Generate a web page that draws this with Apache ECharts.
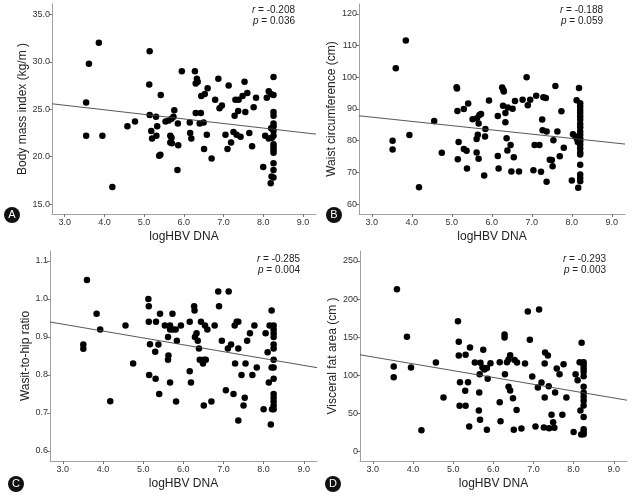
<!DOCTYPE html>
<html><head><meta charset="utf-8">
<script src="https://cdn.jsdelivr.net/npm/echarts@6/dist/echarts.min.js"></script>
<style>html,body{margin:0;padding:0;background:#fff}#c{width:634px;height:500px}</style>
</head><body><div id="c"></div>
<script>
// ---- Data ----
const xTicks = [3, 4, 5, 6, 7, 8, 9];
const bmiTicks = [15, 20, 25, 30, 35];
const waistTicks = [60, 70, 80, 90, 100, 110, 120];
const whrTicks = [0.6, 0.7, 0.8, 0.9, 1.0, 1.1];
const vfaTicks = [0, 50, 100, 150, 200, 250];

const bmiPoints = [
[3.54,25.7],[3.54,22.2],[3.61,29.8],[3.86,32.0],[3.95,22.2],[4.2,16.8],[4.58,23.2],[4.77,23.7],
[5.14,31.1],[5.13,27.6],[5.14,24.4],[5.18,22.7],[5.2,21.9],[5.3,24.2],[5.33,23.2],[5.31,22.2],
[5.42,26.5],[5.38,20.1],[5.41,20.2],[5.54,23.7],[5.62,23.8],[5.69,24.0],[5.76,24.9],[5.74,24.2],
[5.66,22.2],[5.69,22.0],[5.66,21.5],[5.7,21.4],[5.85,23.5],[5.86,21.2],[5.84,18.6],[5.95,29.0],
[6.15,23.6],[6.16,22.5],[6.19,21.9],[6.28,29.0],[6.3,27.7],[6.33,28.2],[6.35,27.9],[6.3,24.6],
[6.4,23.5],[6.43,24.6],[6.44,26.4],[6.5,23.6],[6.53,26.6],[6.58,22.3],[6.6,27.2],[6.51,20.8],
[6.7,19.8],[6.79,26.0],[6.87,28.2],[6.9,25.1],[6.96,25.4],[7.05,22.3],[7.1,20.8],[7.13,27.5],
[7.19,21.5],[7.25,22.6],[7.28,24.3],[7.3,26.0],[7.33,22.3],[7.37,24.8],[7.38,26.0],[7.43,22.1],
[7.48,26.4],[7.53,27.9],[7.55,24.7],[7.6,26.7],[7.65,22.5],[7.72,21.1],[7.76,25.2],[7.82,26.2],
[8.0,18.9],[8.05,22.2],[8.09,26.2],[8.14,21.9],[8.14,26.9],[8.19,17.2],[8.21,17.9],[8.19,26.6],
[8.2,23.0],[8.22,22.0],
[8.26,28.4],[8.26,26.5],[8.26,24.7],[8.26,24.3],[8.26,23.5],[8.26,23.2],[8.26,22.7],[8.26,22.2],
[8.26,21.3],[8.26,21.0],[8.26,20.7],[8.26,20.4],[8.26,19.3],[8.26,18.6],[8.26,17.8]
];
const waistPoints = [
[3.52,80.0],[3.52,77.2],[3.6,102.9],[3.85,111.6],[3.94,81.8],[4.18,65.3],[4.56,86.2],[4.75,76.2],
[5.12,96.9],[5.13,96.5],[5.14,89.4],[5.17,79.6],[5.15,74.1],[5.3,90.0],[5.3,77.4],[5.37,76.8],
[5.41,91.7],[5.38,71.2],[5.52,86.8],[5.63,87.1],[5.69,88.1],[5.73,88.4],[5.65,81.9],[5.62,80.5],
[5.67,85.4],[5.62,76.3],[5.67,74.3],[5.84,83.7],[5.83,81.3],[5.81,69.0],[5.93,92.7],[6.15,87.8],
[6.15,75.2],[6.17,71.2],[6.26,96.8],[6.29,96.0],[6.3,95.5],[6.28,91.0],[6.34,88.7],[6.34,85.8],
[6.37,80.8],[6.4,90.5],[6.39,76.9],[6.47,78.6],[6.49,70.3],[6.52,90.1],[6.55,74.8],[6.58,92.5],
[6.68,70.3],[6.77,92.9],[6.96,92.9],[6.87,100.0],[6.9,91.2],[7.04,70.7],[7.07,78.6],[7.19,78.6],
[7.11,94.2],[7.23,70.2],[7.26,86.7],[7.27,83.3],[7.29,93.7],[7.35,93.5],[7.37,82.9],[7.37,67.0],
[7.45,74.0],[7.5,73.9],[7.52,71.9],[7.54,80.1],[7.59,97.3],[7.64,82.9],[7.7,75.1],[7.74,89.3],
[7.8,77.8],[8.0,67.4],[8.03,82.0],[8.09,81.3],[8.12,92.8],[8.16,65.1],[8.18,96.6],[8.13,80.5],
[8.15,79.6],
[8.21,91.8],[8.21,90.8],[8.21,89.7],[8.21,88.7],[8.21,87.6],[8.21,86.6],[8.21,85.3],[8.21,84.2],
[8.21,82.9],[8.21,81.9],[8.21,80.8],[8.21,79.8],[8.21,78.7],[8.21,77.5],[8.21,76.3],[8.21,75.6],
[8.21,72.4],[8.21,69.3],[8.21,68.2],[8.21,67.2]
];
const whrPoints = [
[3.51,0.880],[3.51,0.869],[3.6,1.05],[3.84,0.961],[3.93,0.92],[4.18,0.731],[4.56,0.93],[4.75,0.83],
[5.13,1.0],[5.14,0.981],[5.14,0.94],[5.17,0.881],[5.15,0.80],[5.3,0.861],[5.32,0.94],[5.31,0.79],
[5.38,0.88],[5.42,0.961],[5.4,0.75],[5.54,0.93],[5.62,0.90],[5.63,0.851],[5.62,0.84],[5.67,0.93],
[5.67,0.92],[5.73,0.961],[5.74,0.92],[5.81,0.92],[5.84,0.89],[5.67,0.78],[5.82,0.73],[5.94,0.93],
[6.16,0.94],[6.16,0.81],[6.19,0.78],[6.27,0.981],[6.28,0.97],[6.29,0.90],[6.33,0.91],[6.36,0.89],
[6.39,0.87],[6.41,0.84],[6.44,0.94],[6.49,0.83],[6.51,0.84],[6.54,0.93],[6.56,0.84],[6.6,0.92],
[6.51,0.72],[6.7,0.73],[6.78,0.93],[6.87,1.02],[6.89,0.981],[6.96,0.89],[7.06,0.76],[7.11,0.87],
[7.13,1.02],[7.19,0.88],[7.25,0.75],[7.28,0.93],[7.29,0.83],[7.33,0.94],[7.37,0.94],[7.37,0.87],
[7.37,0.68],[7.45,0.80],[7.5,0.72],[7.53,0.74],[7.55,0.83],[7.59,0.89],[7.66,0.91],[7.72,0.80],
[7.77,0.93],[7.83,0.82],[8.0,0.71],[8.05,0.91],[8.1,0.86],[8.13,0.78],[8.15,0.93],[8.18,0.67],
[8.2,0.97],[8.2,0.82],[8.21,0.71],
[8.25,0.93],[8.25,0.92],[8.25,0.91],[8.25,0.90],[8.25,0.88],[8.25,0.87],[8.25,0.84],[8.25,0.82],
[8.25,0.79],[8.25,0.75],[8.25,0.74],[8.25,0.73],[8.25,0.72],[8.25,0.71]
];
const vfaPoints = [
[3.52,111.6],[3.52,97.6],[3.6,212.8],[3.85,150.6],[3.95,110.3],[4.21,28.0],[4.57,116.9],[4.76,70.9],
[5.12,170.8],[5.14,144.0],[5.14,126.1],[5.17,91.1],[5.16,60.0],[5.31,127.0],[5.3,79.7],[5.31,60.0],
[5.37,91.1],[5.42,136.6],[5.4,32.8],[5.54,116.9],[5.68,116.5],[5.66,101.6],[5.65,77.5],[5.64,53.9],
[5.67,41.6],[5.75,133.5],[5.73,110.3],[5.78,107.7],[5.84,109.5],[5.86,95.5],[5.93,116.0],[5.84,28.5],
[6.16,117.3],[6.16,64.8],[6.18,39.8],[6.28,153.7],[6.28,149.7],[6.29,101.6],[6.34,117.3],[6.38,120.8],
[6.42,126.5],[6.38,85.0],[6.42,80.2],[6.49,70.0],[6.51,28.8],[6.53,120.0],[6.59,116.9],[6.58,54.7],
[6.7,30.2],[6.79,115.6],[6.86,183.9],[6.91,146.7],[6.97,98.5],[7.05,32.8],[7.11,84.1],[7.14,186.5],
[7.2,90.6],[7.26,31.5],[7.29,130.0],[7.28,115.6],[7.28,70.9],[7.36,126.1],[7.38,85.8],[7.39,30.7],
[7.45,48.2],[7.49,38.5],[7.52,31.1],[7.54,77.5],[7.58,109.0],[7.65,101.6],[7.72,48.2],[7.75,114.7],
[7.82,70.9],[8.0,25.8],[8.05,101.6],[8.1,93.7],[8.2,142.7],[8.15,117.3],[8.17,53.9],[8.19,22.3],
[8.25,117.3],[8.25,113.4],[8.25,109.0],[8.25,104.6],[8.25,98.9],[8.25,85.0],[8.25,77.1],[8.25,71.8],
[8.25,66.6],[8.25,60.4],[8.25,45.5],[8.25,29.3],[8.25,25.8],[8.25,22.8]
];

// Fit lines, read as end points
const bmiFit = [[2.68,25.57],[9.33,22.37]];
const waistFit = [[2.68,87.86],[9.33,78.93]];
const whrFit = [[2.68,0.9395],[9.33,0.8193]];
const vfaFit = [[2.68,126.97],[9.33,67.4]];

const panelLetters = ['A','B','C','D'];
const yNames = ['Body mass index (kg/m )','Waist circumference (cm)','Wasit-to-hip ratio','Visceral fat area (cm )'];
const xName = 'logHBV DNA';
const rTexts = ['-0.208','-0.188','-0.285','-0.293'];
const pTexts = ['0.036','0.059','0.004','0.003'];

// ---- Layout ----
const grids = [
  {left:52, top:4, width:264, height:210},
  {left:359, top:4, width:266, height:210},
  {left:50, top:251, width:267, height:210},
  {left:360, top:251, width:267, height:210}
];
const yRanges = [[13.95,36.09],[56.85,123.15],[0.5737,1.1263],[-12.35,263.1]];
const yTickSets = [bmiTicks, waistTicks, whrTicks, vfaTicks];
const yFmt = [v=>v.toFixed(1), v=>String(v), v=>v.toFixed(1), v=>String(v)];
const yGaps = [22, 19, 18, 20];
const pointSets = [bmiPoints, waistPoints, whrPoints, vfaPoints];
const fitSets = [bmiFit, waistFit, whrFit, vfaFit];

const axisCol = '#a0a0a0';
const labelCol = '#333';
const font = 'Liberation Sans, Arial, sans-serif';

const xAxis = grids.map((g,i)=>({
  gridIndex:i, type:'value', min:2.68, max:9.33,
  axisLine:{show:true,onZero:false,lineStyle:{color:axisCol,width:1}},
  axisTick:{show:true,length:3,customValues:xTicks,lineStyle:{color:'#777'}},
  axisLabel:{customValues:xTicks,formatter:v=>Number(v).toFixed(1),fontSize:9,color:labelCol,margin:4,fontFamily:font},
  splitLine:{show:false},
  name:xName,nameLocation:'middle',nameGap:17,
  nameTextStyle:{fontSize:12,color:'#222',fontFamily:font}
}));
const yAxis = grids.map((g,i)=>({
  gridIndex:i, type:'value', min:yRanges[i][0], max:yRanges[i][1],
  axisLine:{show:true,onZero:false,lineStyle:{color:axisCol,width:1}},
  axisTick:{show:true,length:3,customValues:yTickSets[i],lineStyle:{color:'#777'}},
  axisLabel:{customValues:yTickSets[i],formatter:v=>yFmt[i](Number(v)),fontSize:9,color:labelCol,margin:2,fontFamily:font},
  splitLine:{show:false},
  name:yNames[i],nameLocation:'middle',nameGap:yGaps[i],
  nameTextStyle:{fontSize:12,color:'#222',fontFamily:font}
}));
const series = [];
pointSets.forEach((pts,i)=>{
  series.push({type:'scatter',xAxisIndex:i,yAxisIndex:i,data:pts,symbolSize:6.5,
    itemStyle:{color:'#000',opacity:1},silent:true,animation:false});
  series.push({type:'line',xAxisIndex:i,yAxisIndex:i,data:fitSets[i],symbol:'none',
    lineStyle:{color:'#444',width:0.9},silent:true,animation:false});
});

const graphic = [];
const letterPos = [[12,215],[334,215],[16,484],[333,484]];
const statPos = [[295,16],[603,16],[300,265],[606,265]];
panelLetters.forEach((L,i)=>{
  graphic.push({type:'circle',shape:{cx:letterPos[i][0],cy:letterPos[i][1],r:8},style:{fill:'#111'}});
  graphic.push({type:'text',x:letterPos[i][0],y:letterPos[i][1],
    style:{text:L,fill:'#fff',fontSize:11,fontFamily:font,align:'center',verticalAlign:'middle'}});
  graphic.push({type:'text',x:statPos[i][0],y:statPos[i][1],
    style:{text:'{i|r} = '+rTexts[i]+'\n{i|p} = '+pTexts[i],align:'right',verticalAlign:'middle',
      fontSize:10,fill:'#222',fontFamily:font,lineHeight:11,
      rich:{i:{fontStyle:'italic',fontSize:10,fill:'#222',fontFamily:font}}}});
});

const chart = echarts.init(document.getElementById('c'),null,{renderer:'canvas'});
chart.setOption({animation:false,backgroundColor:'#fff',grid:grids,xAxis,yAxis,series,graphic});
</script></body></html>
